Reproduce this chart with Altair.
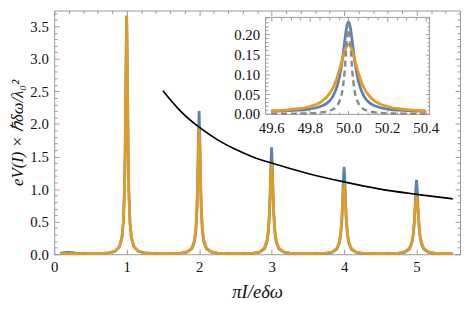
import altair as alt
import pandas as pd

# ---------------- data ----------------
peak_centers = [1, 2, 3, 4, 5]
peak_offsets = [0, 0.01, 0.02, 0.03, 0.045, 0.065, 0.1, 0.16, 0.25, 0.38]
blue_profiles = [
    [3.66, 2.80, 1.64, 0.97, 0.50, 0.26, 0.115, 0.046, 0.021, 0.011],
    [2.20, 1.76, 1.10, 0.68, 0.36, 0.19, 0.085, 0.035, 0.016, 0.009],
    [1.64, 1.38, 0.93, 0.61, 0.34, 0.18, 0.082, 0.034, 0.016, 0.009],
    [1.34, 1.16, 0.82, 0.55, 0.32, 0.17, 0.079, 0.033, 0.015, 0.009],
    [1.14, 1.00, 0.74, 0.51, 0.30, 0.17, 0.078, 0.033, 0.015, 0.008],
]
orange_profiles = [
    [3.66, 2.80, 1.64, 0.97, 0.50, 0.26, 0.115, 0.046, 0.021, 0.011],
    [1.95, 1.64, 1.11, 0.72, 0.40, 0.22, 0.098, 0.040, 0.018, 0.010],
    [1.40, 1.23, 0.90, 0.63, 0.37, 0.21, 0.095, 0.040, 0.018, 0.010],
    [1.10, 0.99, 0.76, 0.55, 0.34, 0.19, 0.091, 0.038, 0.018, 0.010],
    [0.92, 0.84, 0.67, 0.50, 0.32, 0.19, 0.090, 0.039, 0.018, 0.010],
]
head_x = [0.08, 0.12, 0.16, 0.2, 0.25, 0.3, 0.4, 0.5]
blue_head = [0.012, 0.022, 0.030, 0.030, 0.026, 0.018, 0.012, 0.010]
orange_head = [0.006, 0.008, 0.010, 0.011, 0.011, 0.010, 0.010, 0.010]
tail_x = [5.5]
blue_tail = [0.008]
orange_tail = [0.010]

black_x = [1.5, 1.75, 2, 2.25, 2.5, 2.75, 3, 3.5, 4, 4.5, 5, 5.5]
black_y = [2.51, 2.19, 1.95, 1.76, 1.61, 1.49, 1.40, 1.24, 1.11, 1.00, 0.92, 0.85]

inset_center = 50.0
inset_offsets = [0, 0.01, 0.02, 0.03, 0.045, 0.06, 0.08, 0.1, 0.14, 0.2, 0.28, 0.4]
inset_blue = [0.232, 0.217, 0.181, 0.142, 0.097, 0.068, 0.045, 0.032, 0.020, 0.0125, 0.009, 0.007]
inset_orange = [0.175, 0.170, 0.158, 0.141, 0.114, 0.090, 0.066, 0.050, 0.031, 0.019, 0.0125, 0.008]
inset_gray = [0.225, 0.176, 0.107, 0.064, 0.034, 0.0205, 0.012, 0.0078, 0.0041, 0.002, 0.001, 0.0005]

# tick values
main_x_major = [0, 1, 2, 3, 4, 5]
main_x_minor = [round(i * 0.2, 2) for i in range(0, 29) if i % 5 != 0]
main_y_major = [0, 0.5, 1.0, 1.5, 2.0, 2.5, 3.0, 3.5]
main_y_minor = [round(i * 0.1, 2) for i in range(0, 38) if i % 5 != 0]
inset_x_major = [49.6, 49.8, 50.0, 50.2, 50.4]
inset_x_minor = [49.65, 49.7, 49.75, 49.85, 49.9, 49.95, 50.05, 50.1, 50.15, 50.25, 50.3, 50.35]
inset_y_major = [0.0, 0.05, 0.10, 0.15, 0.20]
inset_y_minor = [round(i * 0.01, 2) for i in range(0, 25) if i % 5 != 0]

# ---------------- tables ----------------
def build(head_y, profiles, tail_y):
    xs, ys = list(head_x), list(head_y)
    for c, prof in zip(peak_centers, profiles):
        for d, v in zip(reversed(peak_offsets[1:]), reversed(prof[1:])):
            xs.append(c - d); ys.append(v)
        xs.append(c); ys.append(prof[0])
        for d, v in zip(peak_offsets[1:], prof[1:]):
            xs.append(c + d); ys.append(v)
    xs += tail_x; ys += tail_y
    return pd.DataFrame({"x": xs, "y": ys})

def build_inset(prof):
    xs, ys = [], []
    for d, v in zip(reversed(inset_offsets[1:]), reversed(prof[1:])):
        xs.append(inset_center - d); ys.append(v)
    xs.append(inset_center); ys.append(prof[0])
    for d, v in zip(inset_offsets[1:], prof[1:]):
        xs.append(inset_center + d); ys.append(v)
    return pd.DataFrame({"x": xs, "y": ys})

blue_df = build(blue_head, blue_profiles, blue_tail)
orange_df = build(orange_head, orange_profiles, orange_tail)
black_df = pd.DataFrame({"x": black_x, "y": black_y})
iblue_df = build_inset(inset_blue)
iorange_df = build_inset(inset_orange)
igray_df = build_inset(inset_gray)
frame_df = pd.DataFrame({"x": [49.57], "x2": [50.42], "y": [-0.001], "y2": [0.2427]})

# ---------------- layout ----------------
W, H = 413, 248
BLUE, ORANGE, GRAY, FRAME = "#5E81B5", "#E19C24", "#8a8a8a", "#9a9a9a"
SERIF = "'Liberation Serif', 'Times New Roman', Times, serif"

XM = alt.Scale(domain=[0, 5.6], nice=False, zero=False)
YM = alt.Scale(domain=[0, 3.741], nice=False, zero=False)
IX0, IX1, IY0, IY1 = 215, 382, 105.7, 7
XI = alt.Scale(domain=[49.57, 50.42], range=[IX0, IX1], nice=False, zero=False)
YI = alt.Scale(domain=[-0.001, 0.2427], range=[IY0, IY1], nice=False, zero=False)


def ax(orient, values, L, offset, fmt=None, title=None, **kw):
    d = dict(orient=orient, values=values, tickSize=L, offset=offset,
             domain=False, grid=False, ticks=True, tickColor=FRAME, tickWidth=1,
             labelFlush=False, labelOverlap=False, labelPadding=6, zindex=1,
             labelFont=SERIF, labelFontSize=15, labelColor="#111111")
    if fmt is None:
        d["labels"] = False
    else:
        d["labels"] = True
        d["format"] = fmt
    d["title"] = title
    d.update(kw)
    return alt.Axis(**d)

Lmaj, Lmin = 5, 3
li_maj, li_min = 4, 2.5

blue = alt.Chart(blue_df).mark_line(color=BLUE, strokeWidth=2.8).encode(
    x=alt.X("x:Q", scale=XM, axis=ax("bottom", main_x_major, Lmaj, -Lmaj, fmt="d",
                                     title="πI/eδω", titlePadding=8, titleFontSize=19,
                                     titleFont=SERIF, titleFontStyle="italic",
                                     titleFontWeight="normal", titleColor="#111111")),
    y=alt.Y("y:Q", scale=YM, axis=ax("left", main_y_major, Lmaj, -Lmaj, fmt=".1f",
                                     title="eV(I) × ℏδω/λ₀²", titlePadding=3, titleFontSize=17,
                                     titleFont=SERIF, titleFontStyle="italic",
                                     titleFontWeight="normal", titleColor="#111111")),
)
orange = alt.Chart(orange_df).mark_line(color=ORANGE, strokeWidth=2.8).encode(
    x=alt.X("x:Q", scale=XM, axis=ax("bottom", main_x_minor, Lmin, -Lmin)),
    y=alt.Y("y:Q", scale=YM, axis=ax("left", main_y_minor, Lmin, -Lmin)),
)
black = alt.Chart(black_df).mark_line(color="black", strokeWidth=1.7, interpolate="monotone").encode(
    x=alt.X("x:Q", scale=XM, axis=ax("top", main_x_major, Lmaj, -Lmaj)),
    y=alt.Y("y:Q", scale=YM, axis=ax("right", main_y_major, Lmaj, -Lmaj)),
)
helper = alt.Chart(black_df).mark_line(opacity=0).encode(
    x=alt.X("x:Q", scale=XM, axis=ax("top", main_x_minor, Lmin, -Lmin)),
    y=alt.Y("y:Q", scale=YM, axis=ax("right", main_y_minor, Lmin, -Lmin)),
)

iframe = alt.Chart(frame_df).mark_rect(fill="white", fillOpacity=0, stroke=FRAME, strokeWidth=1).encode(
    x=alt.X("x:Q", scale=XI, axis=ax("bottom", inset_x_major, li_maj, -(H - IY0 + li_maj), fmt=".1f")),
    x2="x2:Q",
    y=alt.Y("y:Q", scale=YI, axis=ax("left", inset_y_major, li_maj, -(IX0 + li_maj), fmt=".2f")),
    y2="y2:Q",
)
iblue = alt.Chart(iblue_df).mark_line(color=BLUE, strokeWidth=2.8, interpolate="monotone").encode(
    x=alt.X("x:Q", scale=XI, axis=ax("bottom", inset_x_minor, li_min, -(H - IY0 + li_min))),
    y=alt.Y("y:Q", scale=YI, axis=ax("left", inset_y_minor, li_min, -(IX0 + li_min))),
)
iorange = alt.Chart(iorange_df).mark_line(color=ORANGE, strokeWidth=2.8, interpolate="monotone").encode(
    x=alt.X("x:Q", scale=XI, axis=ax("top", inset_x_major, li_maj, -(IY1 + li_maj))),
    y=alt.Y("y:Q", scale=YI, axis=ax("right", inset_y_major, li_maj, -(W - IX1 + li_maj))),
)
igray = alt.Chart(igray_df).mark_line(color=GRAY, strokeWidth=2.5, strokeDash=[6, 4],
                                      interpolate="monotone").encode(
    x=alt.X("x:Q", scale=XI, axis=ax("top", inset_x_minor, li_min, -(IY1 + li_min))),
    y=alt.Y("y:Q", scale=YI, axis=ax("right", inset_y_minor, li_min, -(W - IX1 + li_min))),
)

chart = (
    alt.layer(blue, orange, black, helper, iframe, iblue, iorange, igray)
    .resolve_scale(x="independent", y="independent")
    .properties(width=W, height=H,
                autosize=alt.AutoSizeParams(type="none"),
                padding={"left": 47, "top": 0, "right": 1, "bottom": 45})
    .configure_view(stroke=FRAME, strokeWidth=1)
)

chart.save("out.html", embed_options={"renderer": "svg", "actions": False})
